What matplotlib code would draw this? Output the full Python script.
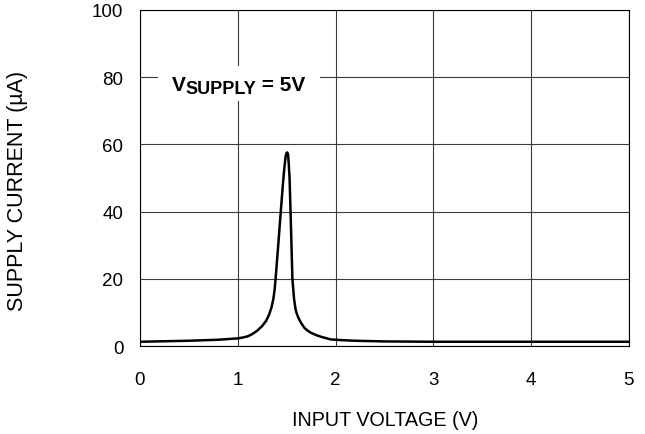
import matplotlib
matplotlib.use("Agg")
import matplotlib.pyplot as plt
from matplotlib.patches import Rectangle

plt.rcParams['font.family'] = ['Liberation Sans', 'DejaVu Sans']

# supply current vs input voltage
input_v = [0.0, 0.5, 0.8, 1.0, 1.05, 1.1, 1.15, 1.2, 1.25, 1.29, 1.32, 1.345,
           1.364, 1.377, 1.387, 1.414, 1.44, 1.46, 1.475, 1.49, 1.50, 1.507,
           1.515, 1.522, 1.53, 1.54, 1.559, 1.576, 1.59, 1.60, 1.615, 1.627,
           1.65, 1.68, 1.71, 1.747, 1.8, 1.85, 1.9, 1.95, 2.05, 2.2, 2.5, 3.0, 5.0]
supply_ua = [1.3, 1.6, 1.9, 2.3, 2.55, 2.9, 3.6, 4.6, 6.0, 7.5, 9.3, 11.5,
             14.0, 16.8, 20.0, 30.0, 40.0, 47.5, 52.5, 56.5, 57.5, 57.6,
             57.0, 54.0, 50.0, 40.0, 20.0, 14.0, 11.2, 10.0, 8.8, 8.0,
             6.8, 5.5, 4.7, 4.0, 3.3, 2.8, 2.4, 2.0, 1.8, 1.6, 1.4, 1.3, 1.3]

x_ticks = [0, 1, 2, 3, 4, 5]
y_ticks = [0, 20, 40, 60, 80, 100]

fig = plt.figure(figsize=(6.45, 4.35), dpi=100)
ax = fig.add_axes([0.217, 0.202, 0.758, 0.773])

ax.set_xlim(0, 5)
ax.set_ylim(0, 100)
ax.set_xticks(x_ticks)
ax.set_yticks(y_ticks)
ax.tick_params(length=0, labelsize=13.5, colors='black')
ax.tick_params(axis='y', pad=12)
ax.tick_params(axis='x', pad=18)
ax.grid(True, color='#3a3a3a', linewidth=0.8, zorder=0.5)
ax.set_axisbelow(True)
for s in ax.spines.values():
    s.set_linewidth(0.8)
    s.set_color('black')

ax.plot(input_v, supply_ua, color='black', linewidth=1.8,
        solid_joinstyle='round', solid_capstyle='round', zorder=3)

ax.set_xlabel('INPUT VOLTAGE (V)', fontsize=14.2)
ax.set_ylabel('SUPPLY CURRENT (µA)', fontsize=15.5)
ax.xaxis.set_label_coords(0.501, -0.19)
ax.yaxis.set_label_coords(-0.229, 0.464)

# white box behind the label, hides the grid
ax.add_patch(Rectangle((0.037, 0.729), 0.331, 0.104, transform=ax.transAxes,
                       facecolor='white', edgecolor='none', zorder=1))

t1 = ax.text(0.065, 0.749, 'V', transform=ax.transAxes, fontsize=15,
             fontweight='bold', va='bottom', ha='left', zorder=4)
t2 = ax.annotate('SUPPLY', xy=(1, 0), xycoords=t1, xytext=(0, -2),
                 textcoords='offset points', fontsize=13, fontweight='bold',
                 va='bottom', ha='left', zorder=4)
t3 = ax.annotate(' = 5V', xy=(1, 0), xycoords=t2, xytext=(0, 2),
                 textcoords='offset points', fontsize=15, fontweight='bold',
                 va='bottom', ha='left', zorder=4)

fig.savefig('out.png', dpi=100)
